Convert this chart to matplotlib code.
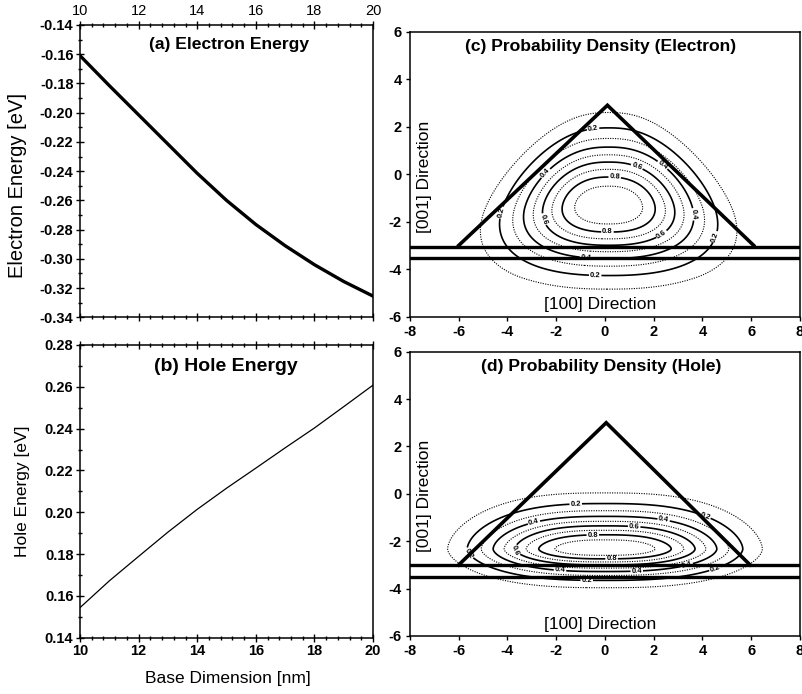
import numpy as np
import matplotlib.pyplot as plt
from matplotlib.ticker import MultipleLocator, FormatStrFormatter

plt.rcParams['font.family'] = ['Liberation Sans', 'DejaVu Sans']
plt.rcParams['axes.unicode_minus'] = False

# ground state energies against pyramid base size
base_nm = [10, 11, 12, 13, 14, 15, 16, 17, 18, 19, 20]
electron_ev = [-0.161, -0.1815, -0.2015, -0.2215, -0.2415, -0.260, -0.2765, -0.291, -0.304, -0.3155, -0.3255]
hole_ev = [0.1544, 0.1672, 0.1789, 0.1905, 0.2014, 0.2115, 0.2211, 0.2308, 0.2403, 0.2505, 0.2608]

# pyramid cross section and wetting layer (nm)
tri_e_x = [-6.0, 0.1, 6.1]
tri_e_y = [-3.0, 2.9, -3.0]
tri_h_x = [-6.0, 0.05, 5.95]
tri_h_y = [-3.0, 3.0, -3.0]
wl_e_y = [-3.05, -3.55]
wl_h_y = [-3.0, -3.5]

# normalised density: centre, x width/exponent, y widths (up, down)/exponent, taper
elec_par = dict(x0=0.15, y0=-1.35, ax=3.55, px=2.4, ay_up=2.6, ay_dn=2.3, py=2.0, taper=0.085)
hole_par = dict(x0=0.0, y0=-2.33, ax=4.74, px=2.7, ay_up=1.45, ay_dn=1.0, py=1.7, taper=0.0)

solid_levels = [0.2, 0.4, 0.6, 0.8]
dotted_levels = [0.1, 0.3, 0.5, 0.7, 0.9]

# where the contour values are written
elec_lab = [(-0.5, 2.0), (-4.3, -1.6), (4.4, -2.6), (-0.4, -4.2),
            (-2.5, 0.1), (2.3, 0.3), (3.5, -1.7), (-0.8, -3.7),
            (1.3, 0.3), (-2.5, -1.9), (2.3, -2.5),
            (0.4, -0.1), (0.1, -2.6)]
hole_lab = [(-1.2, -0.45), (-0.75, -3.66), (4.0, -1.2), (4.6, -3.4), (-6.0, -2.8),
            (-2.9, -1.27), (2.4, -1.13), (-1.85, -3.28), (3.4, -3.2),
            (1.2, -1.35), (-3.76, -2.44), (1.3, -3.14),
            (-0.5, -1.69), (0.27, -2.83)]


def density(X, Y, x0, y0, ax, px, ay_up, ay_dn, py, taper):
    dy = Y - y0
    ay = np.where(dy > 0, ay_up, ay_dn)
    axy = ax * np.clip(1 - taper * dy, 0.1, 1.25)
    return np.exp(-(np.abs(X - x0) / axy) ** px - (np.abs(dy) / ay) ** py)


fig = plt.figure(figsize=(8.02, 6.94), dpi=100)
ax_a = fig.add_axes([0.0998, 0.5428, 0.3653, 0.4212])
ax_b = fig.add_axes([0.0998, 0.0811, 0.3653, 0.4218])
ax_c = fig.add_axes([0.5112, 0.5437, 0.4863, 0.4107])
ax_d = fig.add_axes([0.5112, 0.0836, 0.4863, 0.4097])

# (a) and (b): energies
ax_a.plot(base_nm, electron_ev, color='k', lw=2.4)
ax_b.plot(base_nm, hole_ev, color='k', lw=0.9)
ax_a.set_ylim(-0.34, -0.14)
ax_b.set_ylim(0.14, 0.28)
for ax in (ax_a, ax_b):
    ax.set_xlim(10, 20)
    ax.xaxis.set_major_locator(MultipleLocator(2))
    ax.xaxis.set_minor_locator(MultipleLocator(0.4))
    ax.yaxis.set_major_locator(MultipleLocator(0.02))
    ax.yaxis.set_minor_locator(MultipleLocator(0.01))
    ax.yaxis.set_major_formatter(FormatStrFormatter('%.2f'))
    ax.tick_params(which='both', direction='inout', top=True, bottom=True,
                   left=True, right=False, width=1.0)
    ax.tick_params(which='major', length=5.5, labelsize=10.5, pad=2)
    ax.tick_params(which='minor', length=3.2)
    for sp in ax.spines.values():
        sp.set_linewidth(1.1)
    for lab in ax.get_xticklabels() + ax.get_yticklabels():
        lab.set_fontweight('bold')
ax_a.tick_params(axis='x', labeltop=True, labelbottom=False)
ax_a.set_ylabel('Electron Energy [eV]', fontsize=14.5)
ax_a.yaxis.set_label_coords(-0.18, 0.45)
ax_b.set_ylabel('Hole Energy [eV]', fontsize=12.5)
ax_b.yaxis.set_label_coords(-0.172, 0.5)
ax_b.set_xlabel('Base Dimension [nm]', fontsize=12.5)
ax_b.xaxis.set_label_coords(0.503, -0.115)
ax_a.text(0.51, 0.932, '(a) Electron Energy', transform=ax_a.transAxes,
          ha='center', va='center', fontsize=12.6, fontweight='bold')
ax_b.text(0.497, 0.928, '(b) Hole Energy', transform=ax_b.transAxes,
          ha='center', va='center', fontsize=14, fontweight='bold')

# (c) and (d): probability density contours in the pyramid
xg = np.linspace(-8, 8, 401)
yg = np.linspace(-6, 6, 301)
X, Y = np.meshgrid(xg, yg)
panels = [(ax_c, elec_par, tri_e_x, tri_e_y, wl_e_y, elec_lab,
           '(c) Probability Density (Electron)'),
          (ax_d, hole_par, tri_h_x, tri_h_y, wl_h_y, hole_lab,
           '(d) Probability Density (Hole)')]
for ax, par, tx, ty, wl, labpos, title in panels:
    Z = density(X, Y, **par)
    ax.contour(X, Y, Z, levels=dotted_levels, colors='k', linewidths=0.8,
               linestyles=[(0, (1, 1.2))])
    cs = ax.contour(X, Y, Z, levels=solid_levels, colors='k', linewidths=1.2,
                    linestyles='solid')
    texts = ax.clabel(cs, fmt='%.1f', fontsize=5.5, inline=True, inline_spacing=1,
                      manual=labpos)
    for t in texts:
        t.set_fontweight('bold')
    ax.plot(tx, ty, color='k', lw=2.6, solid_joinstyle='miter', zorder=5)
    for yy in wl:
        ax.axhline(yy, color='k', lw=2.4, zorder=5)
    ax.set_xlim(-8, 8)
    ax.set_ylim(-6, 6)
    ax.xaxis.set_major_locator(MultipleLocator(2))
    ax.yaxis.set_major_locator(MultipleLocator(2))
    ax.tick_params(direction='out', length=3, width=1.0, labelsize=10.5, pad=3,
                   top=False, right=False)
    for sp in ax.spines.values():
        sp.set_linewidth(1.1)
    for lab in ax.get_xticklabels() + ax.get_yticklabels():
        lab.set_fontweight('bold')
    ax.text(0.489, 0.947, title, transform=ax.transAxes, ha='center', va='center',
            fontsize=12.6, fontweight='bold')
    ax.text(-7.4, -0.1, '[001] Direction', rotation=90, ha='center', va='center',
            fontsize=12.5)
    ax.text(-0.2, -5.5, '[100] Direction', ha='center', va='center', fontsize=12.5)

fig.savefig('out.png', dpi=100)
